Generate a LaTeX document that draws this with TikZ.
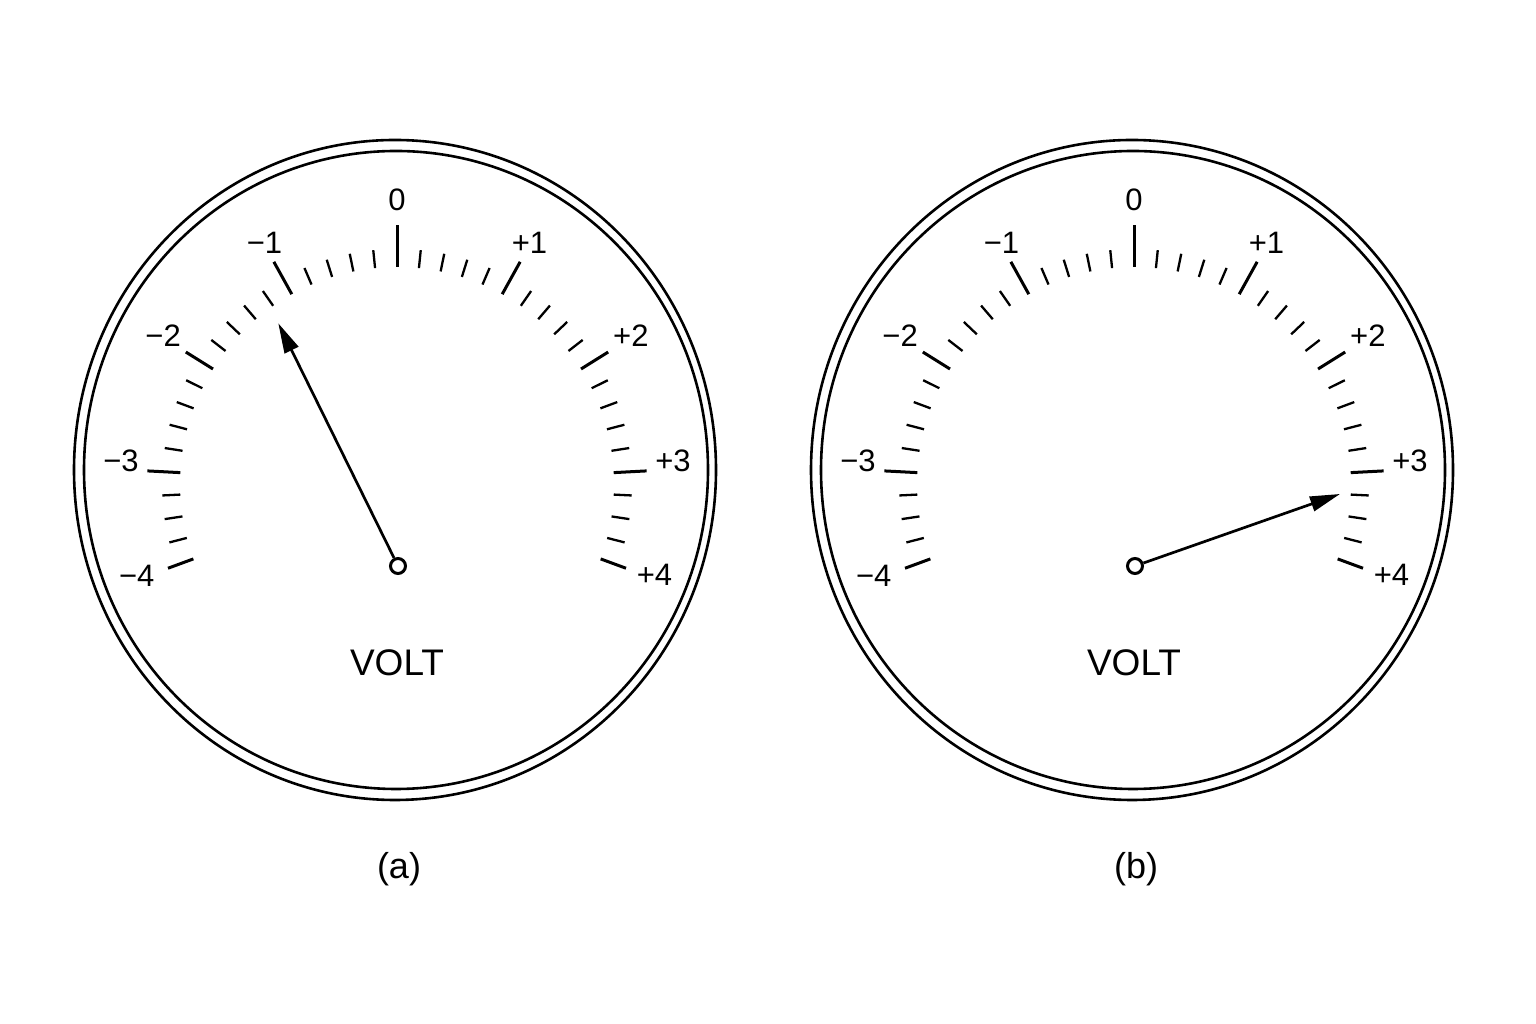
\documentclass[tikz,border=0pt]{standalone}
\usepackage{fontspec}
\setmainfont{Liberation Sans}
\usetikzlibrary{arrows.meta}
\tikzset{
  rim/.style={line width=2.6pt},
  majortick/.style={line width=3pt},
  minortick/.style={line width=2.3pt},
  scalelabel/.style={font=\fontsize{31}{36}\selectfont, inner sep=0pt},
  needle/.style={line width=2.7pt, -{Triangle[length=30pt,width=15pt]}},
  pivot/.style={circle, draw, line width=3pt, fill=white, minimum size=15pt, inner sep=0pt},
  unitlabel/.style={font=\fontsize{37}{44}\selectfont, inner sep=0pt},
  caption/.style={font=\fontsize{36}{42}\selectfont, inner sep=0pt}
}
% #1 x shift, #2 name, #3 needle tip (local coordinates), #4 caption
\newcommand\meterdial[4]{%
\begin{scope}[xshift=#1pt]
  \draw[rim] (395,554) ellipse [x radius=321pt, y radius=330pt];
  \draw[rim] (396,554) ellipse [x radius=312pt, y radius=319pt];
  \foreach \k in {1,2,3,4,6,7,8,9,11,12,13,14,16,17,18} {
    \foreach \s in {1,-1} {
      \draw[minortick] ({397+217*cos(90+\s*\k*5.8)},{540+217*sin(90+\s*\k*5.8)})
        -- ({397+235*cos(90+\s*\k*5.8)},{540+235*sin(90+\s*\k*5.8)});
    }
  }
  \foreach \d/\len/\ld/\lr/\txt/\id in {0/42/0/284/0/z,
      29/37/28.8/275/{−1}/m1, -29/37/-28.8/275/{+1}/p1,
      58/32/57.6/277/{−2}/m2, -58/32/-57.6/277/{+2}/p2,
      87/33/85.1/277/{−3}/m3, -87/33/-85.1/277/{+3}/p3,
      110.2/27/109.4/276/{−4}/m4, -110.2/27/-109.4/273/{+4}/p4} {
    \draw[majortick] ({397+217*cos(90+\d)},{540+217*sin(90+\d)})
      -- ({397+(217+\len)*cos(90+\d)},{540+(217+\len)*sin(90+\d)});
    \node[scalelabel] (#2-\id) at ({397+\lr*cos(90+\ld)},{540+\lr*sin(90+\ld)}) {\txt};
  }
  \node[unitlabel] (#2-unit) at (397,361.5) {VOLT};
  \node[caption] (#2-cap) at (399,155) {#4};
  \coordinate (#2-tip) at #3;
  \node[pivot] (#2-piv) at (398,458) {};
  \draw[needle] (#2-piv) -- (#2-tip);
\end{scope}}
\begin{document}
\begin{tikzpicture}[x=1pt,y=1pt]
\fill[white] (0,0) rectangle (1536,1024);
\useasboundingbox (0,0) rectangle (1536,1024);
\meterdial{0}{a}{(278.3,700.7)}{(a)}
\meterdial{737}{b}{(603,530)}{(b)}
\end{tikzpicture}
\end{document}
